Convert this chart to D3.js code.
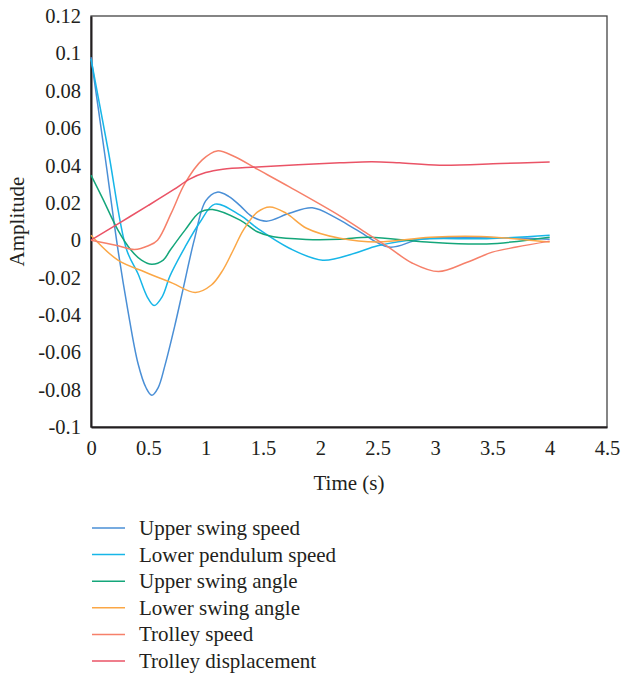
<!DOCTYPE html>
<html><head><meta charset="utf-8">
<script src="https://cdn.jsdelivr.net/npm/d3@7"></script>
<style>
html,body{margin:0;padding:0;background:#fff;}
svg text{font-family:"Liberation Serif","Times New Roman","DejaVu Serif",serif !important;fill:#231f20;}
</style></head>
<body><svg id="chart" width="622" height="673"></svg>
<script>
const seriesNames = ["Upper swing speed","Lower pendulum speed","Upper swing angle","Lower swing angle","Trolley speed","Trolley displacement"];
const seriesColors = ["#4a8fd6","#17b6e8","#14a67a","#fba746","#f6806a","#ea5366"];

const upperSwingSpeed = [[0,0.098],[0.12,0.046],[0.235,-0.005],[0.32,-0.037],[0.41,-0.066],[0.48,-0.079],[0.53,-0.083],[0.585,-0.079],[0.645,-0.067],[0.73,-0.046],[0.8,-0.027],[0.9,0.0],[1.0,0.021],[1.1,0.0257],[1.2,0.0235],[1.3,0.0185],[1.4,0.0128],[1.53,0.0102],[1.73,0.0144],[1.93,0.0173],[2.14,0.0118],[2.32,0.0054],[2.6,-0.0037],[2.87,0.0005],[3.3,0.0016],[4,0.0005]];
const lowerPendulumSpeed = [[0,0.097],[0.15,0.048],[0.31,-0.005],[0.41,-0.018],[0.49,-0.0303],[0.55,-0.035],[0.62,-0.0303],[0.69,-0.019],[0.82,-0.0037],[0.95,0.0096],[1.08,0.0193],[1.3,0.0134],[1.45,0.0064],[1.73,-0.0043],[2.02,-0.0107],[2.3,-0.007],[2.5,-0.003],[2.87,0.0005],[3.45,0.0008],[4,0.0027]];
const upperSwingAngle = [[0,0.0348],[0.1,0.0225],[0.235,0.0054],[0.35,-0.0054],[0.44,-0.0107],[0.53,-0.0129],[0.63,-0.0107],[0.69,-0.0054],[0.82,0.0054],[0.95,0.015],[1.06,0.0164],[1.3,0.0107],[1.45,0.0045],[1.59,0.0018],[1.88,0.0004],[2.17,0.0005],[2.43,0.0016],[2.93,-0.001],[3.45,-0.002],[4,0.0016]];
const lowerSwingAngle = [[0,0.0027],[0.235,-0.0107],[0.47,-0.017],[0.71,-0.023],[0.91,-0.028],[1.05,-0.024],[1.15,-0.016],[1.24,-0.0054],[1.33,0.0055],[1.45,0.015],[1.56,0.0178],[1.7,0.0145],[1.88,0.0064],[2.17,0.001],[2.5,-0.001],[2.96,0.0016],[3.4,0.002],[4,-0.001]];
const trolleySpeed = [[0,0],[0.235,-0.003],[0.38,-0.005],[0.5,-0.003],[0.58,0],[0.7,0.0145],[0.82,0.0305],[0.97,0.043],[1.1,0.0478],[1.25,0.0448],[1.45,0.038],[1.73,0.0285],[2.17,0.013],[2.43,0.0027],[2.6,-0.004],[2.8,-0.0122],[3.03,-0.0168],[3.28,-0.0118],[3.5,-0.0064],[3.71,-0.0037],[4,-0.0005]];
const trolleyDisplacement = [[0,0],[0.25,0.0093],[0.5,0.0186],[0.72,0.027],[0.86,0.0327],[1.0,0.0362],[1.15,0.038],[1.45,0.0392],[2.17,0.0414],[2.45,0.042],[2.69,0.0414],[3.04,0.0401],[3.57,0.041],[4,0.0419]];
const allSeries = [upperSwingSpeed,lowerPendulumSpeed,upperSwingAngle,lowerSwingAngle,trolleySpeed,trolleyDisplacement];

const xTicks = [0,0.5,1,1.5,2,2.5,3,3.5,4,4.5];
const yTicks = [-0.1,-0.08,-0.06,-0.04,-0.02,0,0.02,0.04,0.06,0.08,0.1,0.12];

const FONT = '"Liberation Serif","Times New Roman","DejaVu Serif",serif';
const svg = d3.select("#chart");
const L=91, R=607, T=16, B=427;
const x = d3.scaleLinear().domain([0,4.5]).range([L,R]);
const y = d3.scaleLinear().domain([-0.1,0.12]).range([B,T]);

svg.append("rect").attr("x",L).attr("y",T).attr("width",R-L).attr("height",B-T)
  .attr("fill","none").attr("stroke","#444").attr("stroke-width",1.3);

const xAxis = svg.append("g").attr("transform",`translate(0,${B})`)
  .call(d3.axisBottom(x).tickValues(xTicks).tickSize(0).tickPadding(13).tickFormat(d=>String(d)));
const yAxis = svg.append("g").attr("transform",`translate(${L},0)`)
  .call(d3.axisLeft(y).tickValues(yTicks).tickSize(0).tickPadding(10).tickFormat(d=>String(+d.toFixed(2))));
[xAxis,yAxis].forEach(g=>{
  g.attr("font-family",FONT).attr("font-size",20);
  g.selectAll("path.domain").attr("stroke","#231f20").attr("stroke-width",2);
  g.selectAll("text").style("font-family",FONT).style("font-size","20.5px").attr("fill","#231f20");
});

const line = d3.line().x(d=>x(d[0])).y(d=>y(d[1])).curve(d3.curveCatmullRom.alpha(0.5));
allSeries.forEach((s,i)=>{
  svg.append("path").datum(s).attr("d",line).attr("fill","none")
    .attr("stroke",seriesColors[i]).attr("stroke-width",1.5);
});

svg.append("text").attr("x",(L+R)/2).attr("y",490).attr("text-anchor","middle")
  .style("font-family",FONT).style("font-size","21px").text("Time (s)");
svg.append("text").attr("transform",`translate(24,${(T+B)/2}) rotate(-90)`)
  .attr("text-anchor","middle").style("font-family",FONT).style("font-size","21px").text("Amplitude");

const lg = svg.append("g");
seriesNames.forEach((n,i)=>{
  const yy = 528 + i*26.6;
  lg.append("line").attr("x1",92).attr("x2",125).attr("y1",yy).attr("y2",yy)
    .attr("stroke",seriesColors[i]).attr("stroke-width",1.5);
  lg.append("text").attr("x",139).attr("y",yy).attr("dy","0.33em")
    .style("font-family",FONT).style("font-size","21px").text(n);
});
</script></body></html>
